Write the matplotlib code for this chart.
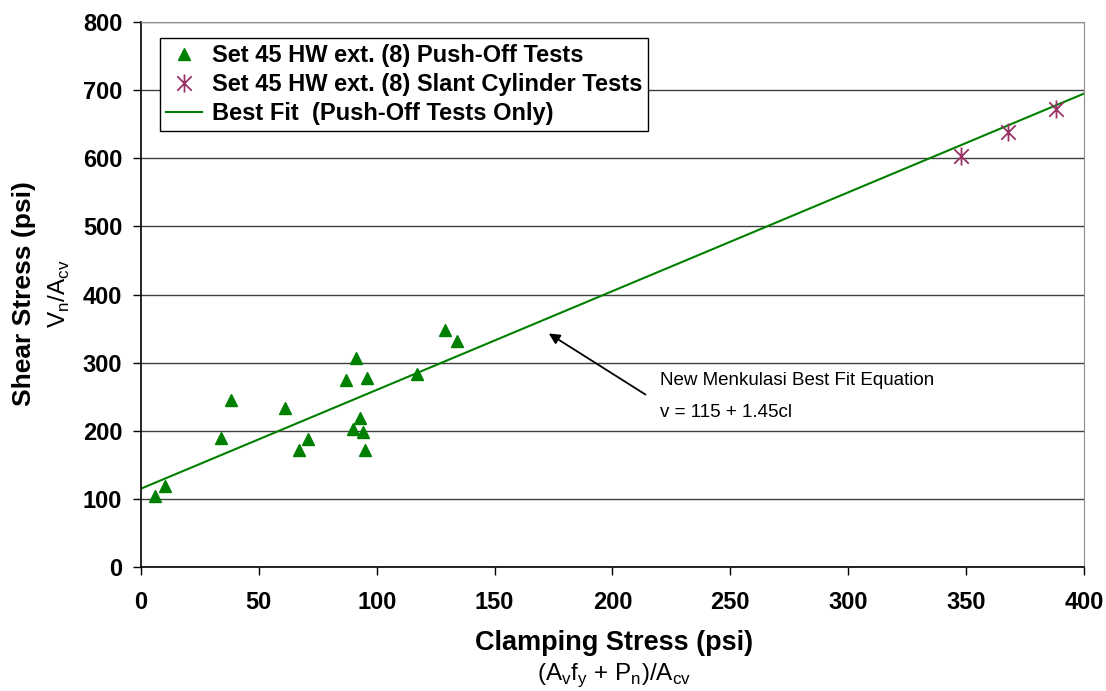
import matplotlib
matplotlib.use("Agg")
import matplotlib.pyplot as plt
from matplotlib.path import Path
import numpy as np

plt.rcParams['font.family'] = ['Liberation Sans', 'DejaVu Sans']

# push-off tests (clamping stress, shear stress)
push_x = [6, 10, 34, 38, 61, 67, 71, 87, 90, 91, 93, 94, 95, 96, 117, 129, 134]
push_y = [104, 119, 190, 245, 233, 172, 188, 274, 203, 307, 219, 198, 172, 278, 284, 348, 332]

# slant cylinder tests
slant_x = [348, 368, 388]
slant_y = [603, 638, 672]

# best fit  v = 115 + 1.45 cl
fit_a = 115
fit_b = 1.45
fit_x = [0, 400]

green = '#008000'
purple = '#993366'

# excel style star marker: X plus vertical bar
star = Path([(-1, -1), (1, 1), (-1, 1), (1, -1), (0, -1.25), (0, 1.25)],
            [Path.MOVETO, Path.LINETO, Path.MOVETO, Path.LINETO, Path.MOVETO, Path.LINETO])

fig = plt.figure(figsize=(11.06, 6.91), dpi=100)
ax = fig.add_axes([0.1275, 0.1795, 0.8525, 0.7885])

fx = np.array(fit_x)
ax.plot(fx, fit_a + fit_b * fx, color=green, linewidth=1.5, zorder=2,
        label='Best Fit  (Push-Off Tests Only)')
ax.plot(push_x, push_y, '^', color=green, markersize=8, linestyle='none', zorder=3,
        label='Set 45 HW ext. (8) Push-Off Tests')
ax.plot(slant_x, slant_y, marker=star, color=purple, markersize=13, markeredgewidth=1.3,
        linestyle='none', zorder=3, label='Set 45 HW ext. (8) Slant Cylinder Tests')

ax.set_xlim(0, 400)
ax.set_ylim(0, 800)
ax.set_xticks(range(0, 401, 50))
ax.set_yticks(range(0, 801, 100))
ax.yaxis.grid(True, color='#404040', linewidth=1)
ax.set_axisbelow(True)
for lab in ax.get_xticklabels() + ax.get_yticklabels():
    lab.set_fontweight('bold')
ax.tick_params(labelsize=17, length=5.5, width=1, color='black')
ax.tick_params(axis='x', pad=12)
ax.tick_params(axis='y', pad=8)
ax.spines['top'].set_color('#909090')
ax.spines['right'].set_color('#909090')
ax.spines['left'].set_linewidth(1.2)
ax.spines['bottom'].set_linewidth(1.2)

# axis titles
fig.text(0.5553, 0.07, 'Clamping Stress (psi)', ha='center', va='center',
         fontsize=19.5, fontweight='bold')
fig.text(0.5553, 0.0165,
         r'(A$_\mathregular{v}$f$_\mathregular{y}$ + P$_\mathregular{n}$)/A$_\mathregular{cv}$',
         ha='center', va='baseline', fontsize=17.5)
fig.text(0.022, 0.575, 'Shear Stress (psi)', rotation=90, ha='center', va='center',
         fontsize=19, fontweight='bold')
fig.text(0.054, 0.575, r'V$_\mathregular{n}$/A$_\mathregular{cv}$', rotation=90,
         ha='center', va='center', fontsize=17.5)

# annotation
ax.annotate('', xy=(172, 345), xytext=(215, 251),
            arrowprops=dict(arrowstyle='-|>', color='black', lw=1.3, mutation_scale=16))
ax.text(220, 267, 'New Menkulasi Best Fit Equation', fontsize=13.5, va='baseline')
ax.text(220, 220, 'v = 115 + 1.45cl', fontsize=13.5, va='baseline')

h, l = ax.get_legend_handles_labels()
order = [1, 2, 0]
leg = ax.legend([h[i] for i in order], [l[i] for i in order], loc='upper left',
                bbox_to_anchor=(0.02, 0.9706), prop={'weight': 'bold', 'size': 17},
                frameon=True, fancybox=False, edgecolor='black', framealpha=1,
                handlelength=1.55, handletextpad=0.4, borderpad=0.25, labelspacing=0.25,
                borderaxespad=0)
leg.get_frame().set_linewidth(1)

fig.savefig('out.png', dpi=100)
